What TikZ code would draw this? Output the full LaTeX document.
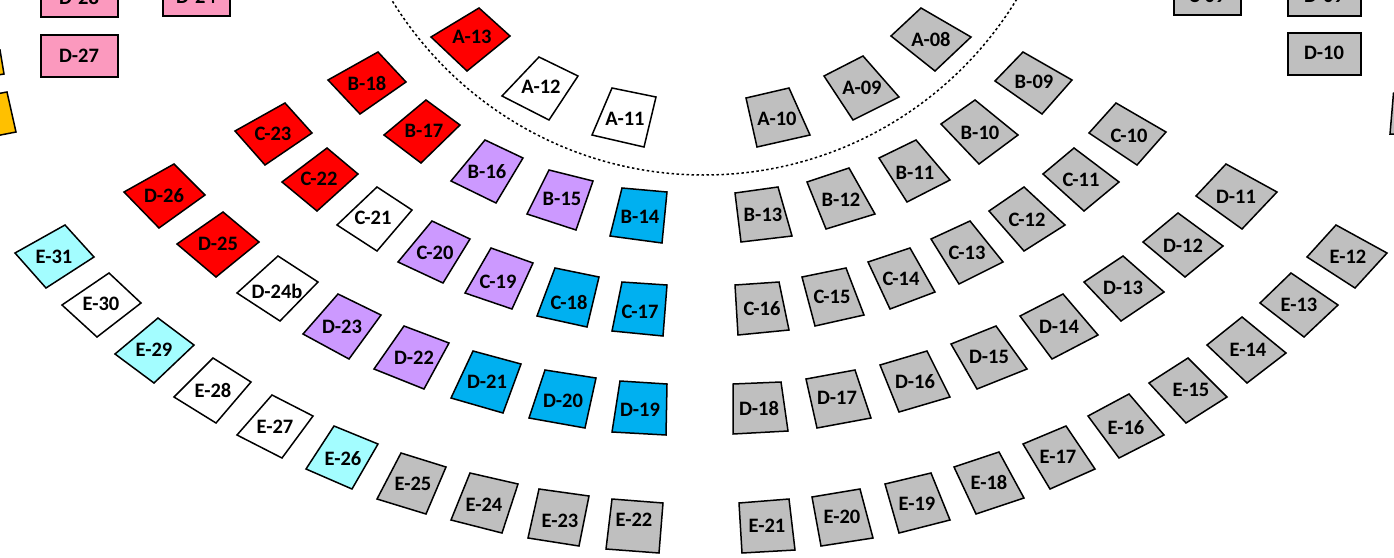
\documentclass[tikz,border=0pt]{standalone}
\usepackage{fontspec}
\setmainfont{Carlito}
\definecolor{cred}{HTML}{FF0000}
\definecolor{cwhite}{HTML}{FFFFFF}
\definecolor{clil}{HTML}{CC99FF}
\definecolor{cblu}{HTML}{00B0F0}
\definecolor{ccya}{HTML}{A3FDFF}
\definecolor{cgry}{HTML}{BFBFBF}
\definecolor{cpnk}{HTML}{FB99BE}
\definecolor{cyel}{HTML}{FFC000}
\tikzset{
  seatshape/.style={draw=black,line width=1.5pt,line join=miter},
  seatlabel/.style={inner sep=0pt,font=\fontsize{20.5}{22}\selectfont\bfseries,text=black},
  gallery/.style={draw=black,line width=1.5pt,dash pattern=on 2.5pt off 2.5pt}
}
% #1 name  #2 colour  #3-#6 corners  #7 label position
\newcommand{\seat}[7]{%
  \path[seatshape,fill=#2] (#3) -- (#4) -- (#5) -- (#6) -- cycle;
  \node[seatlabel] (#1) at (#7) {#1};
}
\begin{document}
\begin{tikzpicture}[x=1pt,y=-1pt]
\clip (0,0) rectangle (1394,557);
\fill[white] (0,0) rectangle (1394,557);
% gallery arc
\draw[gallery] (704,-191) circle (366);
% yellow, partly visible seats
\path[seatshape,fill=cyel] (-20,54) -- (0,50) -- (4,74) -- (-20,78) -- cycle;
\path[seatshape,fill=cyel] (-20,97) -- (7,92) -- (16,132) -- (-20,139) -- cycle;
\path[seatshape,fill=cgry] (1393.5,93) -- (1410,93) -- (1410,134) -- (1390,134) -- cycle;
% straight seats
\seat{D-28}{cpnk}{41,-25}{118,-25}{118,17}{41,17}{79,-3}
\seat{D-24}{cpnk}{163,-25}{230,-25}{230,16}{163,16}{196,-3}
\seat{D-27}{cpnk}{41,35}{118,35}{118,77}{41,77}{79,56}
\seat{D-10}{cgry}{1288,33}{1361,33}{1361,75}{1288,75}{1324,53}
\seat{C-09}{cgry}{1174,-25}{1241,-25}{1241,15}{1174,15}{1207,-4}
\seat{D-09}{cgry}{1288,-25}{1361,-25}{1361,16}{1288,16}{1324,-4}
% row A
\seat{A-13}{cred}{479,8}{510,36}{467,71}{431,37}{472,37}
\seat{A-12}{cwhite}{539,57}{578,76}{549,120}{502,96}{541,87}
\seat{A-11}{cwhite}{612,88}{656,97}{644,147}{592,135}{625,119}
\seat{A-10}{cgry}{746,98}{789,88}{810,135}{757,147}{777,119}
\seat{A-09}{cgry}{824,76}{863,56}{899,97}{853,120}{862,88}
\seat{A-08}{cgry}{921,8}{971,37}{935,71}{891,36}{931,39}
% row B
\seat{B-18}{cred}{378,52}{406,82}{360,114}{328,80}{367,83}
\seat{B-17}{cred}{426,100}{460,125}{421,163}{384,135}{424,131}
\seat{B-16}{clil}{485,140}{523,158}{496,203}{451,181}{487,172}
\seat{B-15}{clil}{549,170}{593,181}{576,230}{527,214}{562,199}
\seat{B-14}{cblu}{622,188}{667,192}{662,243}{610,236}{640,217}
\seat{B-13}{cgry}{735,193}{778,187}{792,236}{741,242}{763,215}
\seat{B-12}{cgry}{807,182}{849,168}{875,214}{826,229}{841,200}
\seat{B-11}{cgry}{879,158}{916,140}{950,180}{907,202}{915,173}
\seat{B-10}{cgry}{975,100}{1018,135}{979,164}{941,124}{980,133}
\seat{B-09}{cgry}{1023,52}{1072,80}{1042,114}{995,81}{1034,82}
% row C
\seat{C-23}{cred}{285,103}{312,133}{265,165}{235,131}{273,134}
\seat{C-22}{cred}{327,148}{358,174}{317,211}{282,182}{319,179}
\seat{C-21}{cwhite}{377,187}{412,210}{377,251}{337,225}{373,218}
\seat{C-20}{clil}{432,221}{470,239}{443,283}{398,262}{435,253}
\seat{C-19}{clil}{491,248}{533,263}{512,309}{465,293}{498,282}
\seat{C-18}{cblu}{555,268}{599,277}{587,327}{537,316}{569,302}
\seat{C-17}{cblu}{622,282}{667,285}{663,336}{612,331}{640,312}
\seat{C-16}{cgry}{735,285}{779,282}{789,330}{738,335}{762,309}
\seat{C-15}{cgry}{802,277}{846,268}{864,315}{815,326}{832,297}
\seat{C-14}{cgry}{868,262}{910,248}{935,292}{890,309}{901,279}
\seat{C-13}{cgry}{931,239}{970,221}{1003,262}{959,284}{967,253}
\seat{C-12}{cgry}{1024,187}{1065,225}{1024,251}{989,211}{1027,220}
\seat{C-11}{cgry}{1074,148}{1119,182}{1084,211}{1043,174}{1081,180}
\seat{C-10}{cgry}{1116,103}{1166,132}{1137,165}{1089,133}{1129,136}
% row D
\seat{D-26}{cred}{174,164}{205,195}{159,228}{124,192}{164,196}
\seat{D-25}{cred}{223,212}{259,242}{216,277}{177,244}{218,244}
\seat{D-24b}{cwhite}{278,256}{318,282}{280,321}{237,293}{277,291}
\seat{D-23}{clil}{338,294}{381,315}{349,359}{303,334}{342,327}
\seat{D-22}{clil}{404,326}{449,343}{424,389}{374,369}{414,358}
\seat{D-21}{cblu}{473,351}{521,364}{503,413}{451,398}{487,382}
\seat{D-20}{cblu}{545,370}{596,378}{585,428}{529,418}{563,401}
\seat{D-19}{cblu}{620,381}{667,384}{666,435}{612,432}{640,410}
\seat{D-18}{cgry}{733,384}{781,382}{788,431}{733,434}{759,408}
\seat{D-17}{cgry}{806,379}{855,370}{871,418}{817,428}{837,398}
\seat{D-16}{cgry}{880,365}{927,351}{950,397}{899,412}{915,382}
\seat{D-15}{cgry}{951,344}{996,326}{1027,369}{977,389}{989,357}
\seat{D-14}{cgry}{1020,316}{1063,294}{1098,335}{1052,359}{1059,327}
\seat{D-13}{cgry}{1123,256}{1164,292}{1121,321}{1084,282}{1123,288}
\seat{D-12}{cgry}{1178,213}{1223,246}{1185,277}{1143,242}{1183,246}
\seat{D-11}{cgry}{1226,164}{1277,192}{1242,229}{1196,196}{1236,197}
% row E
\seat{E-31}{ccya}{65,225}{94,257}{46,288}{15,253}{54,257}
\seat{E-30}{cwhite}{109,273}{141,303}{97,337}{62,305}{101,304}
\seat{E-29}{ccya}{158,318}{194,345}{154,383}{115,354}{154,350}
\seat{E-28}{cwhite}{213,358}{251,382}{216,423}{174,397}{213,390}
\seat{E-27}{cwhite}{272,395}{313,416}{282,458}{237,435}{275,427}
\seat{E-26}{ccya}{334,426}{378,444}{352,489}{306,469}{343,459}
\seat{E-25}{cgry}{401,453}{446,467}{426,514}{377,499}{413,484}
\seat{E-24}{cgry}{470,473}{518,484}{502,533}{451,520}{484,505}
\seat{E-23}{cgry}{539,489}{589,496}{579,546}{528,538}{560,521}
\seat{E-22}{cgry}{612,499}{663,503}{659,553}{606,549}{634,520}
\seat{E-21}{cgry}{739,503}{789,499}{795,550}{742,553}{767,526}
\seat{E-20}{cgry}{812,497}{860,489}{873,538}{821,546}{842,517}
\seat{E-19}{cgry}{885,484}{931,473}{950,520}{899,533}{917,504}
\seat{E-18}{cgry}{954,467}{999,452}{1024,498}{976,514}{989,482}
\seat{E-17}{cgry}{1023,444}{1066,426}{1095,469}{1050,489}{1058,457}
\seat{E-16}{cgry}{1088,416}{1129,394}{1164,435}{1119,458}{1126,428}
\seat{E-15}{cgry}{1188,358}{1227,397}{1186,423}{1149,383}{1191,390}
\seat{E-14}{cgry}{1242,317}{1286,353}{1247,383}{1207,345}{1248,350}
\seat{E-13}{cgry}{1291,273}{1338,305}{1304,337}{1260,303}{1299,305}
\seat{E-12}{cgry}{1336,225}{1387,253}{1355,288}{1307,257}{1348,257}
\end{tikzpicture}
\end{document}
